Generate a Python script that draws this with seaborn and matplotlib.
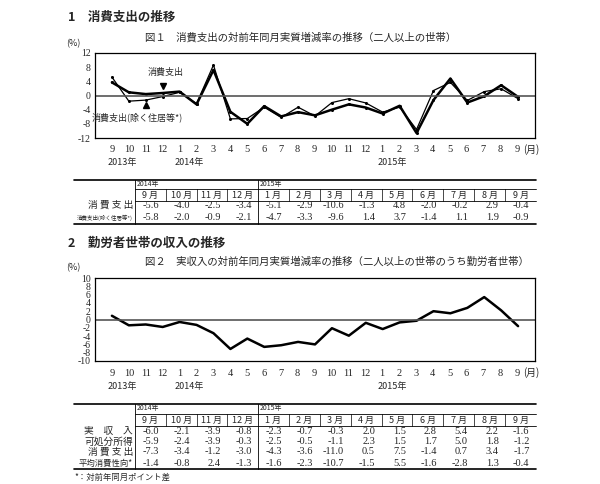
import matplotlib
matplotlib.use("Agg")
import matplotlib.pyplot as plt
import seaborn as sns
import pandas as pd
from matplotlib.lines import Line2D

sns.set_style("white")
plt.rcParams['font.family'] = ['Noto Sans CJK JP', 'DejaVu Sans']

months = ["9", "10", "11", "12", "1", "2", "3", "4", "5", "6", "7", "8", "9",
          "10", "11", "12", "1", "2", "3", "4", "5", "6", "7", "8", "9"]
consumption = [3.7, 0.9, 0.4, 0.7, 1.1, -2.5, 7.2, -4.6, -8.0, -3.0, -5.9, -4.7, -5.6,
               -4.0, -2.5, -3.4, -5.1, -2.9, -10.6, -1.3, 4.8, -2.0, -0.2, 2.9, -0.4]
consumption_ex = [5.2, -1.6, -1.3, -0.3, 0.9, -2.3, 8.6, -6.6, -6.5, -3.3, -6.2, -3.3, -5.8,
                  -2.0, -0.9, -2.1, -4.7, -3.3, -9.6, 1.4, 3.7, -1.4, 1.1, 1.9, -0.9]
income = [0.9, -1.4, -1.2, -1.8, -0.6, -1.3, -3.3, -7.1, -4.6, -6.6, -6.2, -5.4, -6.0,
          -2.1, -3.9, -0.8, -2.3, -0.7, -0.3, 2.0, 1.5, 2.8, 5.4, 2.2, -1.6]
years = [(0, "2013年"), (4, "2014年"), (16, "2015年")]

tbl_months = ["9 月", "10 月", "11 月", "12 月", "1 月", "2 月", "3 月", "4 月", "5 月",
              "6 月", "7 月", "8 月", "9 月"]
t1_labels = ["消 費 支 出", "消費支出(除く住居等*)"]
t1_rows = [["-5.6", "-4.0", "-2.5", "-3.4", "-5.1", "-2.9", "-10.6", "-1.3", "4.8", "-2.0", "-0.2", "2.9", "-0.4"],
           ["-5.8", "-2.0", "-0.9", "-2.1", "-4.7", "-3.3", "-9.6", "1.4", "3.7", "-1.4", "1.1", "1.9", "-0.9"]]
t2_labels = ["実　収　入", "可処分所得", "消 費 支 出", "平均消費性向*"]
t2_rows = [["-6.0", "-2.1", "-3.9", "-0.8", "-2.3", "-0.7", "-0.3", "2.0", "1.5", "2.8", "5.4", "2.2", "-1.6"],
           ["-5.9", "-2.4", "-3.9", "-0.3", "-2.5", "-0.5", "-1.1", "2.3", "1.5", "1.7", "5.0", "1.8", "-1.2"],
           ["-7.3", "-3.4", "-1.2", "-3.0", "-4.3", "-3.6", "-11.0", "0.5", "7.5", "-1.4", "0.7", "3.4", "-1.7"],
           ["-1.4", "-0.8", "2.4", "-1.3", "-1.6", "-2.3", "-10.7", "-1.5", "5.5", "-1.6", "-2.8", "1.3", "-0.4"]]

W, H = 600, 484
fig = plt.figure(figsize=(6, 4.84), dpi=100)

def fx(x): return x / W
def fy(y): return 1 - y / H

def txt(x, y, s, **kw):
    kw.setdefault("fontsize", 6.5)
    kw.setdefault("va", "center")
    fig.text(fx(x), fy(y), s, **kw)

def hline(x0, x1, y, lw=0.8):
    fig.add_artist(Line2D([fx(x0), fx(x1)], [fy(y), fy(y)], color="black", lw=lw))

def vline(x, y0, y1, lw=0.6):
    fig.add_artist(Line2D([fx(x), fx(x)], [fy(y0), fy(y1)], color="black", lw=lw))

def make_axes(top, bottom):
    return fig.add_axes([fx(95), fy(bottom), fx(535) - fx(95), (bottom - top) / H])

def style_axes(ax, ylim, yticks, tick_y, year_y):
    ax.set_xlim(-1, 25)
    ax.set_ylim(*ylim)
    ax.set_yticks(yticks)
    ax.set_yticklabels([str(v) for v in yticks], fontsize=7, family="Liberation Serif")
    ax.set_xticks([])
    ax.axhline(0, color="#555555", lw=1.2)
    for s in ax.spines.values():
        s.set_color("black"); s.set_linewidth(0.9)
    ax.tick_params(axis="y", length=0, pad=3)
    ax.set_xlabel(""); ax.set_ylabel("")
    for i, m in enumerate(months):
        x = 112 + i * (517 - 112) / 24
        txt(x, tick_y, m, ha="center", fontsize=7.5, family="Liberation Serif")
        if i in dict(years):
            txt(x + 10, year_y, dict(years)[i], ha="center", fontsize=6.5)
    txt(523, tick_y, "(月)", ha="left", fontsize=7)

def table(top, year_y, month_y, row_ys, bottom, labels, rows, label_fs):
    left, lab_end, mid, right = 74, 135, 258, 536
    hline(left, right, top, 1.2)
    hline(lab_end, right, month_y - 6, 0.6)
    hline(lab_end, right, month_y + 6, 0.6)
    hline(left, right, bottom, 1.2)
    vline(lab_end, top, bottom)
    vline(mid, top, bottom)
    txt(lab_end + 2, year_y, "2014年", fontsize=5)
    txt(mid + 2, year_y, "2015年", fontsize=5)
    w1 = (mid - lab_end) / 4
    w2 = (right - mid) / 9
    xs = [lab_end + w1 * (i + 0.5) for i in range(4)] + [mid + w2 * (i + 0.5) for i in range(9)]
    for i, m in enumerate(tbl_months):
        txt(xs[i], month_y, m, ha="center", fontsize=6.5)
        if 0 < i < 13 and i != 4:
            edge = lab_end + w1 * i if i < 4 else mid + w2 * (i - 4)
            vline(edge, month_y - 6, month_y + 6, 0.5)
    for lab, vals, y, fs in zip(labels, rows, row_ys, label_fs):
        txt(lab_end - 2, y, lab, ha="right", fontsize=fs)
        for x, v in zip(xs, vals):
            txt(x + 9, y, v, ha="right", fontsize=7.5, family="Liberation Serif")

# Section 1
txt(68, 17, "1　消費支出の推移", fontsize=9, weight="bold")
txt(145, 37, "図１　消費支出の対前年同月実質増減率の推移（二人以上の世帯）", fontsize=7.5)
txt(66, 44, "(%)", fontsize=6.5)
ax1 = make_axes(53, 138)
df1 = pd.DataFrame({"x": list(range(25)) * 2,
                    "y": consumption + consumption_ex,
                    "s": ["a"] * 25 + ["b"] * 25})
sns.lineplot(data=df1, x="x", y="y", hue="s", size="s", sizes={"a": 1.8, "b": 0.9},
             palette={"a": "black", "b": "black"}, marker="o", markersize=2.2,
             markeredgewidth=0, legend=False, ax=ax1)
style_axes(ax1, (-12, 12), list(range(-12, 13, 4)), 150, 162)
ax1.text(3.2, 5.8, "消費支出", fontsize=6.5, ha="center")
ax1.plot([3.0], [2.6], marker="v", color="black", markersize=5)
ax1.plot([2.0], [-2.6], marker="^", color="black", markersize=5)
ax1.text(1.5, -7.0, "消費支出(除く住居等*)", fontsize=6.5, ha="center")

table(180, 184, 195, [205, 218], 224, t1_labels, t1_rows, [7, 4])

# Section 2
txt(68, 243, "2　勤労者世帯の収入の推移", fontsize=9, weight="bold")
txt(145, 262, "図２　実収入の対前年同月実質増減率の推移（二人以上の世帯のうち勤労者世帯）", fontsize=7.5)
txt(66, 268, "(%)", fontsize=6.5)
ax2 = make_axes(278, 361)
df2 = pd.DataFrame({"x": list(range(25)), "y": income})
sns.lineplot(data=df2, x="x", y="y", color="black", lw=1.8, ax=ax2)
style_axes(ax2, (-10, 10), list(range(-10, 11, 2)), 373, 386)

table(404, 408, 420, [431, 442, 452, 463], 469, t2_labels, t2_rows, [7, 7, 7, 6])
txt(74, 477, "*：対前年同月ポイント差", fontsize=6)

fig.savefig("out.png", dpi=100, facecolor="white")
